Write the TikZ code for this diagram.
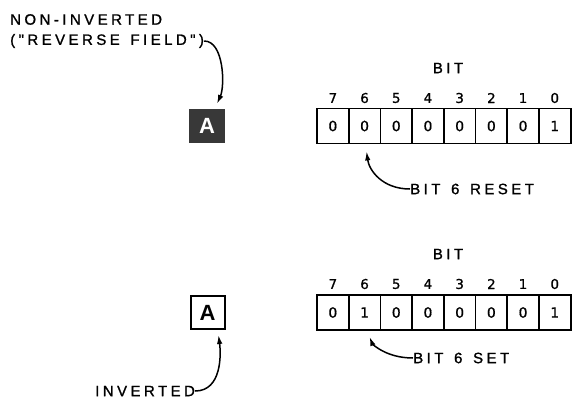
\documentclass[tikz,border=0pt]{standalone}
\usepackage{fontspec}
\setmainfont{Liberation Sans}
\newfontfamily\lbl[LetterSpace=23,FakeBold=1.2,WordSpace=1.4]{Liberation Sans}
\newfontfamily\dig[FakeBold=0.8]{DejaVu Sans}
\usetikzlibrary{arrows.meta}
\begin{document}
\begin{tikzpicture}[x=1pt,y=-1pt,
  lab/.style={font=\lbl\fontsize{15}{15}\selectfont, inner sep=0pt},
  cell/.style={draw, line width=1.8pt, minimum width=31.7pt, minimum height=35pt, inner sep=0pt, font=\dig\fontsize{14}{14}\selectfont},
  num/.style={font=\dig\fontsize{13.5}{13.5}\selectfont, inner sep=0pt},
  arr/.style={line width=1.5pt, -{Latex[length=9pt,width=5.5pt]}},
  darkA/.style={fill=black!78, minimum width=36pt, minimum height=34pt, inner sep=0pt, text=white, font=\bfseries\fontsize{22}{22}\selectfont},
  lightA/.style={draw, line width=2pt, minimum width=34pt, minimum height=33pt, inner sep=0pt, font=\bfseries\fontsize{22}{22}\selectfont}
]
\useasboundingbox (0,0) rectangle (572,399);

% labels
\node[lab, anchor=west] (noninv) at (10,19.5) {NON-INVERTED};
\node[lab, anchor=west] (rf) at (10,41) {("REVERSE FIELD")};
\node[lab, anchor=west] (inv) at (95,391) {INVERTED};

% A boxes
\node[darkA] (Atop) at (207,126) {A};
\node[lightA] (Abot) at (207.5,312.5) {A};

% registers
\foreach \v [count=\i from 0] in {0,0,0,0,0,0,0,1} {
  \pgfmathtruncatemacro\b{7-\i}
  \node[cell] (ra\b) at ({317+31.7*(\i+0.5)},126) {\v};
  \node[num] (la\b) at ({317+31.7*(\i+0.5)},98) {\b};
}
\foreach \v [count=\i from 0] in {0,1,0,0,0,0,0,1} {
  \pgfmathtruncatemacro\b{7-\i}
  \node[cell] (rb\b) at ({317+31.7*(\i+0.5)},312.5) {\v};
  \node[num] (lb\b) at ({317+31.7*(\i+0.5)},284) {\b};
}
\node[lab] (bita) at (448,68) {BIT};
\node[lab] (bitb) at (448,254) {BIT};

\node[lab, anchor=west] (reset) at (410,189) {BIT 6 RESET};
\node[lab, anchor=west] (set) at (413,358) {BIT 6 SET};

% connectors
\draw[arr] (rf.east) .. controls (224,41) and (225,86) .. ([xshift=10pt,yshift=5pt]Atop.north);
\draw[arr] (inv.east) .. controls (222,391) and (221,354) .. ([xshift=11pt,yshift=-5pt]Abot.south);
\draw[arr] (reset.west) .. controls (382,189) and (369,170) .. ([xshift=2pt,yshift=-7pt]ra6.south);
\draw[arr] (set.west) .. controls (385,358) and (372,343) .. ([xshift=5pt,yshift=-6pt]rb6.south);
\end{tikzpicture}
\end{document}
